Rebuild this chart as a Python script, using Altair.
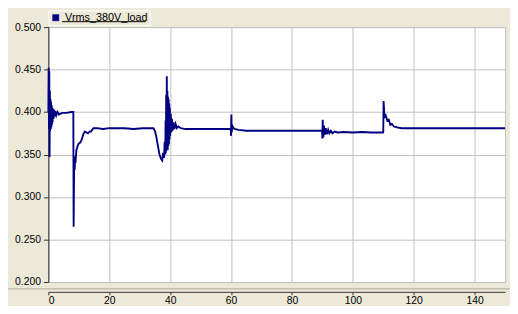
import altair as alt
import pandas as pd

SERIES = "Vrms_380V_load"

# segment 1: start-up oscillation and first plateau
t1 = [0.0, 0.1, 0.2, 0.3, 0.4, 0.5, 0.6, 0.7, 0.8, 0.9, 1.0, 1.1, 1.2, 1.3, 1.4, 1.5,
      1.7, 1.9, 2.1, 2.3, 2.6, 3.0, 3.5, 4.5, 6.0, 7.5, 8.2]
v1 = [0.400, 0.452, 0.380, 0.448, 0.347, 0.425, 0.378, 0.415, 0.380, 0.412, 0.382, 0.408,
      0.385, 0.405, 0.388, 0.404, 0.392, 0.403, 0.395, 0.401, 0.396, 0.400, 0.397, 0.399,
      0.399, 0.400, 0.400]

# segment 2: drop near t=8 and recovery
t2 = [8.3, 8.45, 8.55, 8.65, 8.75, 8.9, 9.2, 9.6, 10.0, 10.5, 11.0, 11.5, 12.0, 12.5, 13.0,
      13.5, 14.0, 14.8, 16, 18, 20, 22, 25, 28, 31, 34.5]
v2 = [0.265, 0.330, 0.345, 0.332, 0.348, 0.340, 0.355, 0.360, 0.363, 0.364, 0.368, 0.374,
      0.377, 0.376, 0.375, 0.377, 0.377, 0.381, 0.381, 0.380, 0.381, 0.381, 0.381, 0.380,
      0.381, 0.381]

# segment 3: dip and oscillation near t=39
t3 = [35.0, 35.5, 36.0, 36.5, 37.0, 37.4, 37.7, 38.0, 38.2, 38.4, 38.5, 38.6, 38.7, 38.8,
      38.9, 39.0, 39.1, 39.2, 39.3, 39.4, 39.5, 39.6, 39.7, 39.8, 39.9, 40.0, 40.2, 40.4,
      40.6, 40.8, 41.1, 41.4, 41.8, 42.2, 42.7, 43.5, 45, 50, 55, 59.9]
v3 = [0.378, 0.370, 0.360, 0.350, 0.345, 0.343, 0.352, 0.346, 0.365, 0.350, 0.390, 0.352,
      0.420, 0.360, 0.442, 0.358, 0.425, 0.355, 0.418, 0.360, 0.415, 0.362, 0.410, 0.368,
      0.405, 0.372, 0.398, 0.376, 0.392, 0.378, 0.388, 0.380, 0.386, 0.381, 0.383, 0.381,
      0.380, 0.380, 0.380, 0.380]

# segment 4: step at t=60
t4 = [60.0, 60.1, 60.2, 60.4, 60.8, 61.4, 62.5, 65, 70, 75, 80, 85, 89.9]
v4 = [0.372, 0.397, 0.376, 0.384, 0.381, 0.380, 0.379, 0.378, 0.378, 0.378, 0.378, 0.378,
      0.378]

# segment 5: step at t=90
t5 = [90.0, 90.1, 90.3, 90.5, 90.8, 91.1, 91.5, 91.9, 92.3, 92.8, 93.3, 94, 95, 97, 100,
      103, 106, 109.9]
v5 = [0.369, 0.391, 0.370, 0.384, 0.373, 0.381, 0.374, 0.379, 0.375, 0.378, 0.375, 0.377,
      0.376, 0.3765, 0.376, 0.3765, 0.376, 0.376]

# segment 6: step at t=110
t6 = [110.0, 110.1, 110.4, 110.8, 111.3, 111.8, 112.3, 112.8, 113.5, 114.5, 116, 120, 125,
      130, 135, 140, 145, 150]
v6 = [0.377, 0.413, 0.394, 0.396, 0.390, 0.391, 0.385, 0.386, 0.383, 0.382, 0.381, 0.381,
      0.381, 0.381, 0.381, 0.381, 0.381, 0.381]

x_ticks = [0, 20, 40, 60, 80, 100, 120, 140]
y_ticks = [0.20, 0.25, 0.30, 0.35, 0.40, 0.45, 0.50]

t_all = t1 + t2 + t3 + t4 + t5 + t6
v_all = v1 + v2 + v3 + v4 + v5 + v6
df = pd.DataFrame({"t": t_all, "v": v_all, "series": SERIES})

FONT = "Liberation Sans"
W, H = 464, 259

line = alt.Chart(df).mark_line(strokeWidth=1.9, interpolate="linear").encode(
    x=alt.X("t:Q", scale=alt.Scale(domain=[0, 150], nice=False, zero=False),
            axis=alt.Axis(values=x_ticks, title=None, offset=10, tickSize=3,
                          domainColor="#303030", tickColor="#303030",
                          labelFontSize=10.5, labelFont=FONT, labelColor="#000000",
                          gridColor="#C0C0C0", labelPadding=1)),
    y=alt.Y("v:Q", scale=alt.Scale(domain=[0.2, 0.5], nice=False, zero=False),
            axis=alt.Axis(values=y_ticks, format=".3f", title=None, tickSize=5,
                          domainColor="#303030", tickColor="#303030",
                          labelFontSize=10.5, labelFont=FONT, labelColor="#000000",
                          gridColor="#C0C0C0", labelPadding=3)),
    color=alt.Color("series:N", scale=alt.Scale(range=["#000080"]),
                    legend=alt.Legend(title=None, orient="none", legendX=0, legendY=-17,
                                      symbolType="square", symbolSize=40,
                                      symbolFillColor="#000080",
                                      symbolStrokeColor="#000080",
                                      symbolStrokeWidth=0.5, labelFontSize=11,
                                      labelFont=FONT, labelColor="#000000",
                                      labelOffset=4, padding=2,
                                      strokeColor="#FFFFFF")),
)

underline = alt.Chart(pd.DataFrame({"k": [0]})).mark_rule(
    color="#000000", strokeWidth=1, clip=False
).encode(x=alt.value(14), x2=alt.value(99), y=alt.value(-5.5))

separator = alt.Chart(pd.DataFrame({"k": [0]})).mark_rule(
    color="#ACA899", strokeWidth=1, clip=False
).encode(x=alt.value(-41), x2=alt.value(W + 5), y=alt.value(H + 7))

chart = alt.layer(line, underline, separator).properties(
    width=W, height=H,
    autosize=alt.AutoSizeParams(type="none"),
    padding={"left": 41, "top": 17, "right": 5, "bottom": 22},
    background="#ECE9D8",
).configure_view(fill="#FFFFFF", stroke="#C0C0C0", strokeWidth=1)

chart.save("out.html", embed_options={"renderer": "svg", "actions": False})
